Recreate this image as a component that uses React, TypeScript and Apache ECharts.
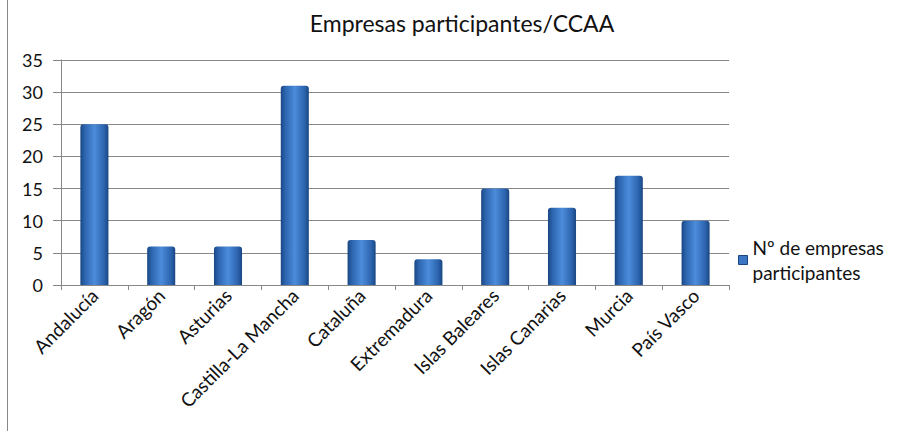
import React, { useEffect, useRef } from "react";
import * as echarts from "echarts";

const categories = [
  "Andalucía",
  "Aragón",
  "Asturias",
  "Castilla-La Mancha",
  "Cataluña",
  "Extremadura",
  "Islas Baleares",
  "Islas Canarias",
  "Murcia",
  "País Vasco",
];
const values = [25, 6, 6, 31, 7, 4, 15, 12, 17, 10];
const seriesName = "Nº de empresas participantes";
const titleText = "Empresas participantes/CCAA";

export default function App() {
  const ref = useRef<HTMLDivElement>(null);
  useEffect(() => {
    if (!ref.current) return;
    const chart = echarts.init(ref.current, null, { renderer: "svg" });
    const font = "Lato, 'Open Sans', sans-serif";
    const barColor = new echarts.graphic.LinearGradient(0, 0, 1, 0, [
      { offset: 0, color: "#1a4682" },
      { offset: 0.15, color: "#2c63ad" },
      { offset: 0.5, color: "#4b8cdb" },
      { offset: 0.85, color: "#2c63ad" },
      { offset: 1, color: "#1a4682" },
    ]);
    chart.setOption({
      animation: false,
      backgroundColor: "#ffffff",
      textStyle: { fontFamily: font },
      title: {
        text: titleText,
        left: 457,
        textAlign: "center",
        top: 6,
        textStyle: { fontFamily: font, fontSize: 23, fontWeight: "normal", color: "#111" },
      },
      legend: {
        left: 738,
        top: 235,
        padding: 0,
        orient: "vertical",
        icon: "rect",
        itemWidth: 9,
        itemHeight: 9,
        itemGap: 4,
        formatter: () => "Nº de empresas\nparticipantes",
        textStyle: { fontFamily: font, fontSize: 19, color: "#111", lineHeight: 25 },
        data: [{ name: seriesName, itemStyle: { color: "#3a76c4", borderColor: "#1a4682", borderWidth: 1 } }],
      },
      grid: { left: 61, right: 175, top: 60, bottom: 146 },
      xAxis: {
        type: "category",
        data: categories,
        axisLine: { lineStyle: { color: "#888", width: 1 } },
        axisTick: { show: true, length: 5, alignWithLabel: false, lineStyle: { color: "#888" } },
        axisLabel: { rotate: 45, interval: 0, margin: 7, fontSize: 19, color: "#111", fontFamily: font },
      },
      yAxis: {
        type: "value",
        min: 0,
        max: 35,
        interval: 5,
        axisLine: { show: true, lineStyle: { color: "#888", width: 1 } },
        axisTick: { show: true, inside: false, length: 8, lineStyle: { color: "#888" } },
        splitLine: { lineStyle: { color: "#888", width: 1 } },
        axisLabel: { margin: 18, fontSize: 18, color: "#111", fontFamily: font },
      },
      series: [
        {
          name: seriesName,
          type: "bar",
          data: values,
          barWidth: "42%",
          itemStyle: { color: barColor, borderRadius: [3, 3, 0, 0] },
        },
      ],
      graphic: [
        {
          type: "line",
          shape: { x1: 7.5, y1: 0, x2: 7.5, y2: 431 },
          style: { stroke: "#888", lineWidth: 1 },
        },
      ],
    });
    return () => chart.dispose();
  }, []);
  return (
    <div
      ref={ref}
      style={{ position: "fixed", left: 0, top: 0, width: 904, height: 431 }}
    />
  );
}
